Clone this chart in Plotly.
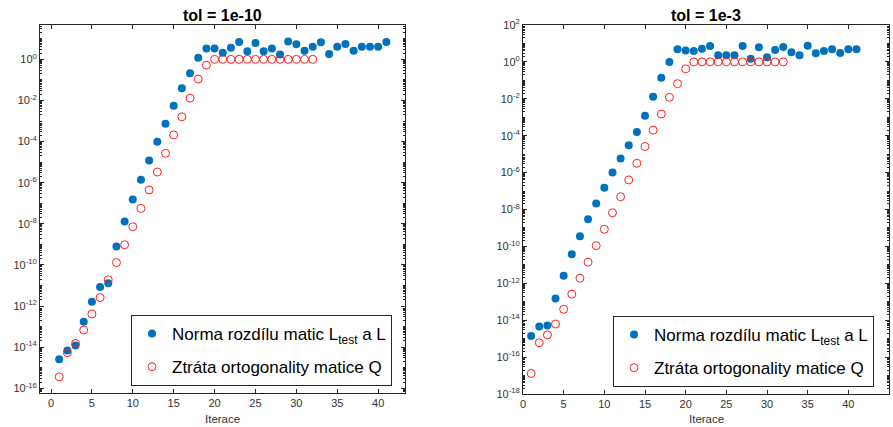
import plotly.graph_objects as go

# ---------------- data ----------------
iter_blue = list(range(1, 42))
iter_red = list(range(1, 33))

left_norm = [2.6e-15, 6.8e-15, 1.2e-14, 1.7e-13, 1.6e-12, 8.5e-12, 1.3e-11, 7.8e-10, 1.3e-8, 1.5e-7,
             1.4e-6, 1.2e-5, 9.8e-5, 7.4e-4, 5.5e-3, 3.9e-2, 0.21, 1.2, 3.4, 3.4,
             2.1, 3.7, 6.9, 2.5, 6.2, 2.5, 3.4, 1.7, 7.4, 5.4,
             2.6, 4.1, 6.7, 1.8, 4.1, 5.5, 2.6, 4.1, 4.1, 4.1, 6.9]
left_orth = [3.6e-16, 5.4e-15, 1.5e-14, 6.8e-14, 4.1e-13, 2.6e-12, 1.9e-11, 1.3e-10, 9.5e-10, 7.2e-9,
             5.6e-8, 4.4e-7, 3.3e-6, 2.7e-5, 2.1e-4, 1.6e-3, 1.3e-2, 0.11, 0.52, 1.0,
             1.0, 1.0, 1.0, 1.0, 1.0, 1.0, 1.0, 1.0, 1.0, 1.0, 1.0, 1.0]

right_norm = [1.4e-15, 4.5e-15, 5.2e-15, 1.5e-13, 2.6e-12, 3.7e-11, 3.6e-10, 3.0e-9, 2.1e-8, 1.5e-7,
              1.0e-6, 5.9e-6, 3.0e-5, 1.6e-4, 1.2e-3, 1.3e-2, 0.14, 0.98, 4.8, 4.2,
              3.9, 5.2, 7.2, 2.3, 2.3, 2.3, 7.2, 1.5, 6.2, 1.8,
              4.4, 6.5, 3.3, 2.3, 7.6, 2.9, 3.9, 4.8, 3.0, 4.8, 4.8]
right_orth = [1.3e-17, 6.0e-16, 1.6e-15, 6.2e-15, 3.9e-14, 2.6e-13, 1.9e-12, 1.4e-11, 1.1e-10, 8.5e-10,
              6.6e-9, 4.9e-8, 4.0e-7, 3.2e-6, 2.6e-5, 2.0e-4, 1.5e-3, 1.2e-2, 6.6e-2, 0.42,
              1.0, 1.0, 1.0, 1.0, 1.0, 1.0, 1.0, 1.0, 1.0, 1.0, 1.0, 1.0]

titles = ["tol = 1e-10", "tol = 1e-3"]
name_norm = "Norma rozdílu matic L<sub>test</sub> a L"
name_orth = "Ztráta ortogonality matice Q"
x_title = "Iterace"

left_y_exps = [-16, -14, -12, -10, -8, -6, -4, -2, 0]
right_y_exps = [-18, -16, -14, -12, -10, -8, -6, -4, -2, 0, 2]
left_x_ticks = [0, 5, 10, 15, 20, 25, 30, 35, 40]
right_x_ticks = [0, 5, 10, 15, 20, 25, 30, 35, 40, 45]

# ---------------- style ----------------
W, H = 893, 427
FONT = "Liberation Sans, Arial, Helvetica, sans-serif"
BLUE = "#0072BD"
RED = "#FF2020"
AX = "#262626"
TICKC = "#333333"


def px_x(p):
    return p / W


def px_y(p):
    return 1 - p / H


def minor_vals(lo, hi):
    vals = []
    for k in range(lo, hi + 1):
        for m in range(1, 10):
            vals.append(m * 10.0 ** k)
    return vals


fig = go.Figure()

fig.add_trace(go.Scatter(x=iter_blue, y=left_norm, mode="markers", name=name_norm,
                         marker=dict(color=BLUE, size=8, line=dict(width=0)),
                         xaxis="x", yaxis="y", legend="legend", legendgroup="a"))
fig.add_trace(go.Scatter(x=iter_red, y=left_orth, mode="markers", name=name_orth,
                         marker=dict(color=RED, size=8, symbol="circle-open", line=dict(width=1, color=RED)),
                         xaxis="x", yaxis="y", legend="legend", legendgroup="b"))
fig.add_trace(go.Scatter(x=iter_blue, y=right_norm, mode="markers", name=name_norm,
                         marker=dict(color=BLUE, size=8, line=dict(width=0)),
                         xaxis="x2", yaxis="y2", legend="legend2", legendgroup="c"))
fig.add_trace(go.Scatter(x=iter_red, y=right_orth, mode="markers", name=name_orth,
                         marker=dict(color=RED, size=8, symbol="circle-open", line=dict(width=1, color=RED)),
                         xaxis="x2", yaxis="y2", legend="legend2", legendgroup="d"))

common_axis = dict(showline=True, linecolor=AX, linewidth=1, mirror="ticks", ticks="inside",
                   ticklen=4, tickcolor=AX, tickwidth=1, showgrid=False, zeroline=False,
                   automargin=False,
                   tickfont=dict(family=FONT, size=11, color=TICKC))

ydom_l = [px_y(393), px_y(25)]
ydom_r = [px_y(394), px_y(25)]

legend_common = dict(xanchor="left", yanchor="top",
                     bgcolor="white", bordercolor=AX, borderwidth=1,
                     font=dict(family=FONT, size=17, color="#000000"),
                     tracegroupgap=8, traceorder="grouped")

fig.update_layout(
    width=W, height=H,
    margin=dict(l=0, r=0, t=0, b=0, pad=0, autoexpand=False),
    paper_bgcolor="white", plot_bgcolor="white",
    font=dict(family=FONT, color=AX),
    showlegend=True,
    xaxis=dict(domain=[px_x(40), px_x(405)], range=[-1.345, 43.28], anchor="y",
               tickmode="array", tickvals=left_x_ticks, ticktext=[str(v) for v in left_x_ticks],
               **common_axis),
    yaxis=dict(domain=ydom_l, type="log", range=[-16.23, 1.67], anchor="x",
               tickmode="array", tickvals=[10.0 ** e for e in left_y_exps],
               ticktext=["10<sup>%d</sup>" % e for e in left_y_exps],
               minor=dict(tickmode="array", tickvals=minor_vals(-17, 1), ticks="inside",
                          ticklen=2, tickcolor=AX, tickwidth=1, showgrid=False),
               **common_axis),
    xaxis2=dict(domain=[px_x(523), px_x(889)], range=[0, 45], anchor="y2",
                tickmode="array", tickvals=right_x_ticks, ticktext=[str(v) for v in right_x_ticks],
                **common_axis),
    yaxis2=dict(domain=ydom_r, type="log", range=[-18, 2], anchor="x2",
                tickmode="array", tickvals=[10.0 ** e for e in right_y_exps],
                ticktext=["10<sup>%d</sup>" % e for e in right_y_exps],
                minor=dict(tickmode="array", tickvals=minor_vals(-18, 1), ticks="inside",
                           ticklen=2, tickcolor=AX, tickwidth=1, showgrid=False),
                **common_axis),
    legend=dict(x=px_x(131), y=px_y(315), **legend_common),
    legend2=dict(x=px_x(613), y=px_y(316), **legend_common),
)

for t, cx in zip(titles, [(40 + 405) / 2, (523 + 889) / 2]):
    fig.add_annotation(text="<b>%s</b>" % t, x=px_x(cx), y=px_y(15), xref="paper", yref="paper",
                       showarrow=False, xanchor="center", yanchor="middle",
                       font=dict(family=FONT, size=16, color="#000000"))
    fig.add_annotation(text=x_title, x=px_x(cx), y=px_y(419), xref="paper", yref="paper",
                       showarrow=False, xanchor="center", yanchor="middle",
                       font=dict(family=FONT, size=11.5, color=TICKC))

fig.write_html("out.html", config={"displayModeBar": False},
               post_script="document.body.style.margin='0';document.body.style.overflow='hidden';")
